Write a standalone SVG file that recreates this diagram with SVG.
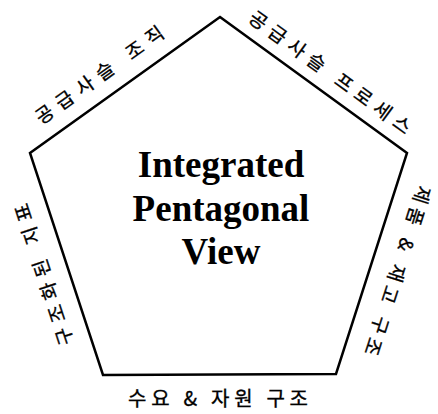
<svg xmlns="http://www.w3.org/2000/svg" width="438" height="414" viewBox="0 0 438 414">
<style>
.edge{fill:none;stroke:#000;stroke-width:2.5;stroke-linejoin:miter}
.ko{font-family:"Noto Sans CJK KR","Noto Sans",sans-serif;font-size:19px;fill:#000;stroke:#000;stroke-width:0.35;text-anchor:middle}
.title{font-family:"Liberation Serif","Times New Roman",serif;font-weight:bold;font-size:37px;fill:#000;text-anchor:middle}
</style>
<rect width="438" height="414" fill="#fff"/>
<g id="pentagon">
<polygon class="edge" points="220,17 407,153 336,374 103,375 30,153"/>
<text class="title" x="221" y="177">Integrated</text>
<text class="title" x="221" y="221">Pentagonal</text>
<text class="title" x="221" y="264">View</text>
</g>
<g id="label-organization" transform="translate(112.9,93.6) rotate(-35.6)">
<text class="ko" x="0" y="-16" textLength="153" lengthAdjust="spacing">공급사슬 조직</text>
</g>
<g id="label-process" transform="translate(318.5,88.6) rotate(36)">
<text class="ko" x="0" y="-13" textLength="195" lengthAdjust="spacing">공급사슬 프로세스</text>
</g>
<g id="label-inventory" transform="translate(371.8,262.6) rotate(107.8)">
<text class="ko" x="0" y="-20" textLength="177" lengthAdjust="spacing">제품 &amp; 재고 구조</text>
</g>
<g id="label-metrics" transform="translate(67.4,266.7) rotate(-108.2)">
<text class="ko" x="0" y="-18" textLength="148" lengthAdjust="spacing">구조화된 지표</text>
</g>
<g id="label-demand">
<text class="ko" x="218" y="406" style="font-size:20px" textLength="180" lengthAdjust="spacing">수요 &amp; 자원 구조</text>
</g>
</svg>
